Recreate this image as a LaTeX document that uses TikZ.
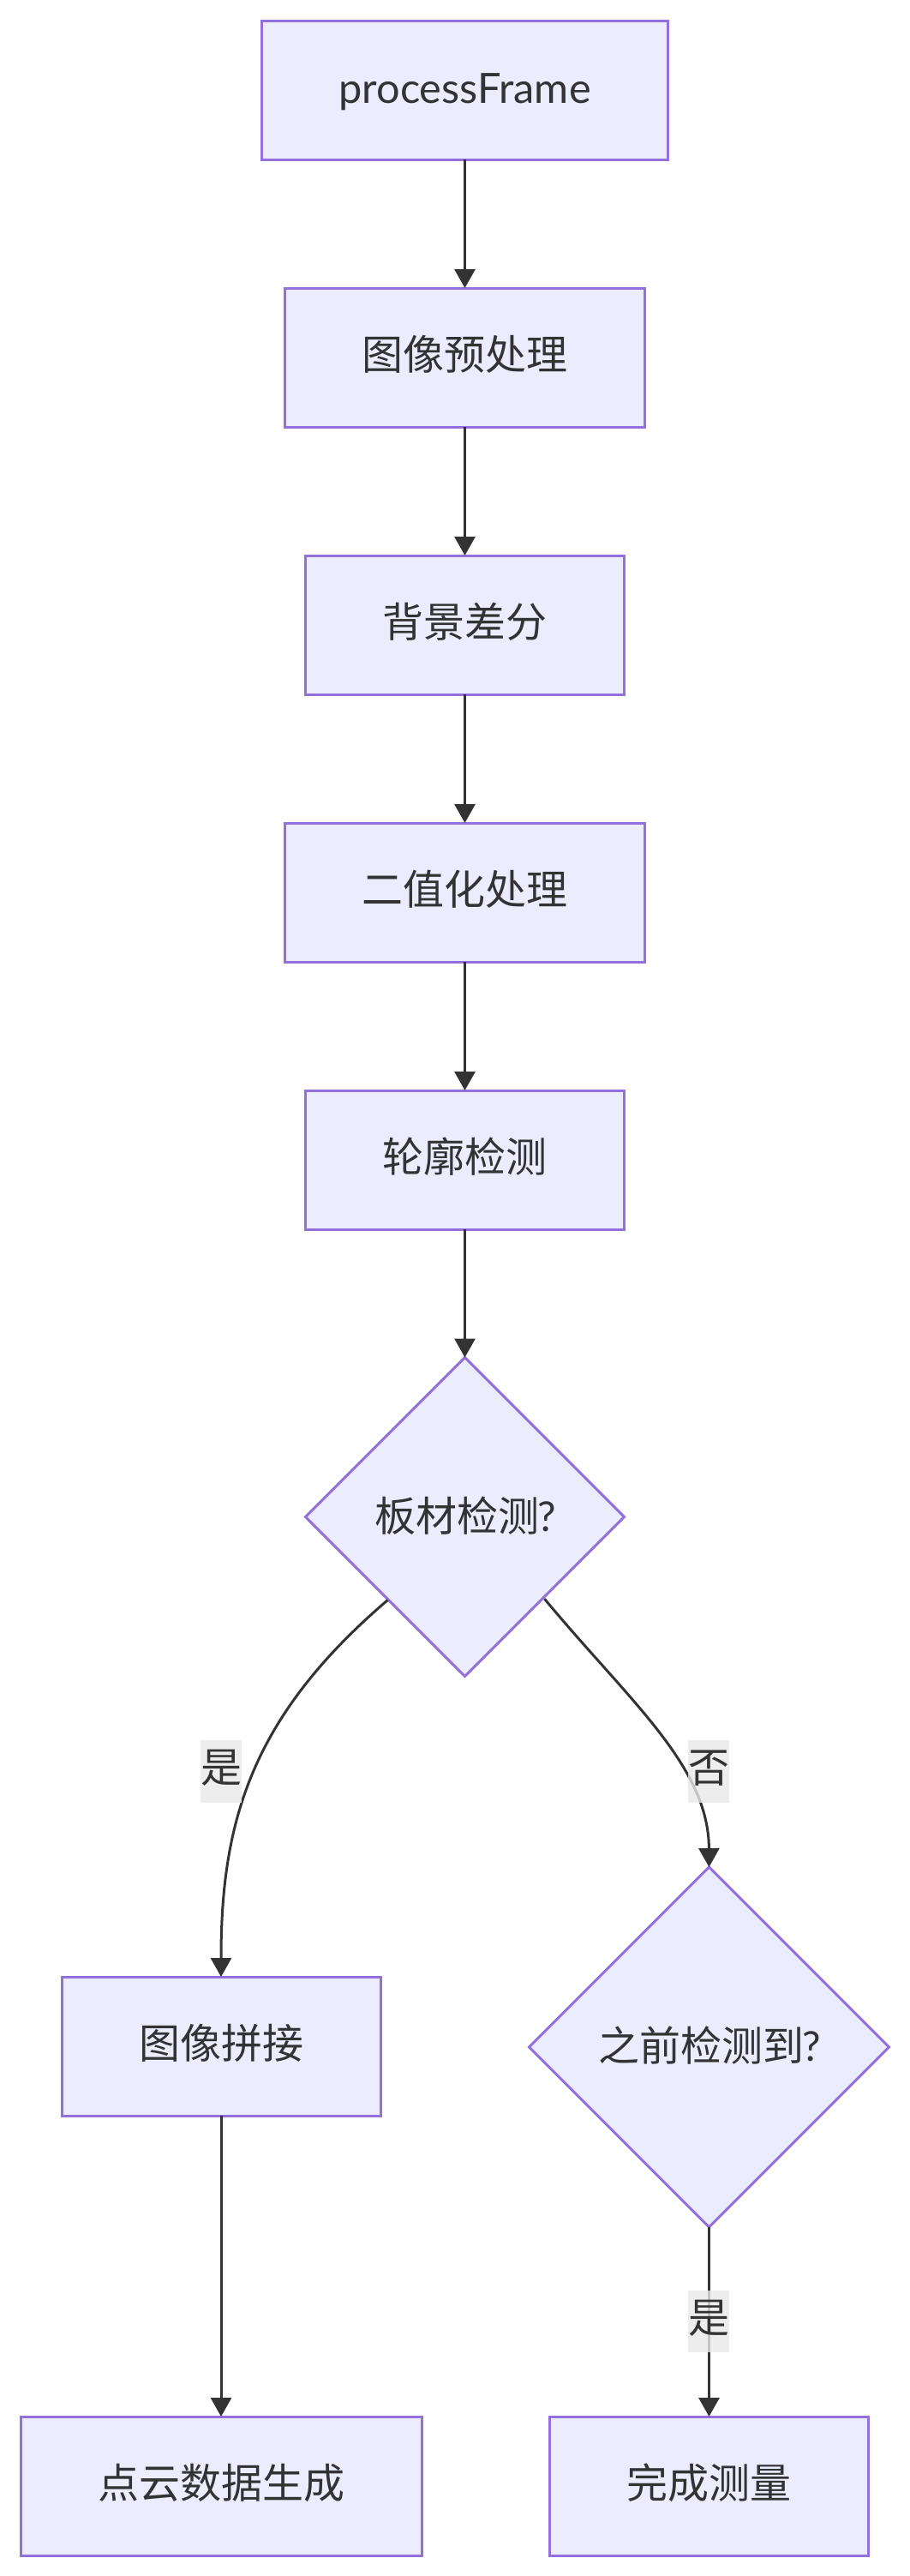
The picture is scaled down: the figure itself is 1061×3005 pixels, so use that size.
\documentclass[tikz,border=0pt]{standalone}
\usepackage{fontspec}
\setmainfont{Lato}
\newfontfamily\cjk{Noto Sans CJK SC}
\newcommand{\cj}[2][2.9pt]{\raisebox{#1}[\height][\depth]{\cjk #2}}
\usetikzlibrary{shapes.geometric,arrows.meta}
\definecolor{nodefill}{HTML}{ECECFF}
\definecolor{nodeline}{HTML}{9370DB}
\definecolor{ink}{HTML}{333333}
\definecolor{labelbg}{HTML}{E8E8E8}
\tikzset{
  flow/.style={draw=nodeline,fill=nodefill,line width=2.25pt,text=ink,font=\fontsize{36}{40}\selectfont,outer sep=0pt,inner sep=0pt},
  boxnode/.style={flow,rectangle,minimum height=121.5pt},
  decision/.style={flow,diamond,aspect=1},
  link/.style={draw=ink,line width=2.25pt,-{Stealth[length=16.5pt,width=18pt,inset=0pt]}},
  edgelabel/.style={fill=labelbg,fill opacity=.8,text opacity=1,text=ink,font=\fontsize{36}{40}\selectfont,inner sep=0pt,outer sep=0pt,minimum width=36pt,minimum height=54.5pt}
}
\begin{document}
\begin{tikzpicture}[x=0.75pt,y=-0.75pt]
\useasboundingbox (0,0) rectangle (1061,3005);
\node[boxnode,minimum width=356pt] (a) at (542.5,105) {\raisebox{-1.4pt}[\height][\depth]{\fontsize{36.5}{40}\selectfont processFrame}};
\node[boxnode,minimum width=315pt] (b) at (542.5,417) {\cj{图像预处理}};
\node[boxnode,minimum width=279pt] (c) at (542.5,729) {\cj{背景差分}};
\node[boxnode,minimum width=315pt] (d) at (542.5,1041) {\cj{二值化处理}};
\node[boxnode,minimum width=279pt] (e) at (542.5,1353) {\cj{轮廓检测}};
\node[decision,minimum width=279pt,minimum height=279pt] (f) at (542.5,1769.5) {\hspace{1.5pt}\cj[1.4pt]{板材检测}\raisebox{1.4pt}{\hspace{-1.5pt}?}};
\node[boxnode,minimum width=279pt] (g) at (258,2387) {\cj{图像拼接}};
\node[decision,minimum width=315pt,minimum height=315pt] (h) at (827.5,2388) {\hspace{1.5pt}\cj[1.4pt]{之前检测到}\raisebox{1.4pt}{\hspace{-1.5pt}?}};
\node[boxnode,minimum width=351pt] (i) at (258,2900) {\cj{点云数据生成}};
\node[boxnode,minimum width=279pt] (j) at (827.5,2900) {\cj{完成测量}};
\draw[link] (a.south) -- (b.north);
\draw[link] (b.south) -- (c.north);
\draw[link] (c.south) -- (d.north);
\draw[link] (d.south) -- (e.north);
\draw[link] (e.south) -- (f.north);
\draw[link] ([xshift=2.25pt,yshift=-3pt]f.south west) .. controls (290,2005) and (258,2130) .. (g.north);
\draw[link] ([yshift=-2pt]f.south east) .. controls (735,1985) and (827,2060) .. (h.north);
\draw[link] (g.south) -- (i.north);
\draw[link] (h.south) -- (j.north);
\node[edgelabel] (yes1) at (258,2066.5) {\cj{是}};
\node[edgelabel] (no1) at (827,2066.5) {\cj{否}};
\node[edgelabel] (yes2) at (827,2708) {\cj{是}};
\end{tikzpicture}
\end{document}
